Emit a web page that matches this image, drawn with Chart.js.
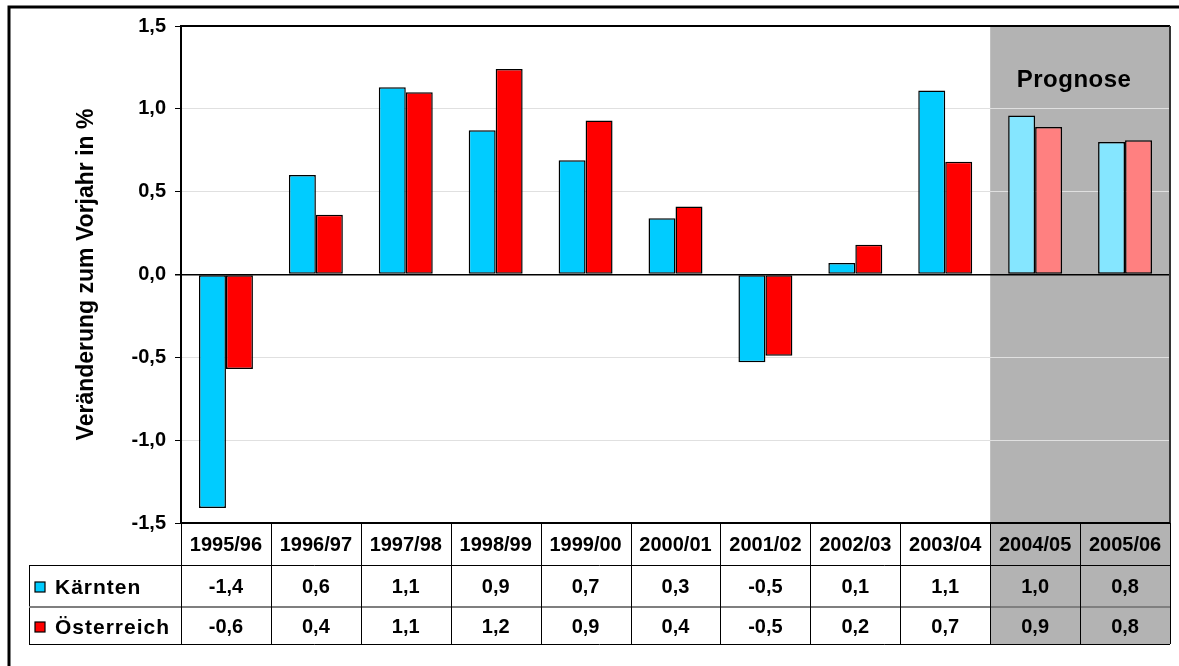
<!DOCTYPE html>
<html>
<head>
<meta charset="utf-8">
<script src="https://cdn.jsdelivr.net/npm/chart.js@4"></script>
<style>
html,body{margin:0;padding:0;background:#fff;}
#wrap{position:relative;width:1179px;height:666px;}
</style>
</head>
<body>
<div id="wrap"><canvas id="c" width="1179" height="666"></canvas></div>
<script>
const categories = ['1995/96','1996/97','1997/98','1998/99','1999/00','2000/01','2001/02','2002/03','2003/04','2004/05','2005/06'];
const kaernten   = [-1.41, 0.60, 1.13, 0.87, 0.69, 0.34, -0.53, 0.07, 1.11, 0.96, 0.80];
const oesterreich= [-0.57, 0.36, 1.10, 1.24, 0.93, 0.41, -0.49, 0.18, 0.68, 0.89, 0.81];
const seriesNames = ['Kärnten','Österreich'];
const forecastStart = 9; // index of first "Prognose" category
const forecastLabel = 'Prognose';
const yMin = -1.5, yMax = 1.5, yStep = 0.5;
const yTitle = 'Veränderung zum Vorjahr in %';

const colK = '#00ccff', colKf = '#85e6ff';
const colO = '#ff0000', colOf = '#ff8080';
const FONT = '"Liberation Sans", Arial, sans-serif';
const fmt = v => v.toFixed(1).replace('.', ',');

const TABLE_TOP = 523, ROW1 = 565, ROW2 = 607, TABLE_BOTTOM = 644, LEG_LEFT = 29;

const tablePlugin = {
  id: 'tablePlugin',
  beforeDraw(chart) {
    const ctx = chart.ctx, x = chart.scales.x, a = chart.chartArea;
    const half = (x.getPixelForValue(1) - x.getPixelForValue(0)) / 2;
    const gx0 = x.getPixelForValue(forecastStart) - half;
    ctx.save();
    ctx.fillStyle = '#b3b3b3';
    ctx.fillRect(gx0, a.top, a.right - gx0, TABLE_BOTTOM - a.top);
    ctx.restore();
  },
  afterDraw(chart) {
    const ctx = chart.ctx, x = chart.scales.x, a = chart.chartArea;
    const half = (x.getPixelForValue(1) - x.getPixelForValue(0)) / 2;
    ctx.save();
    // outer frame
    ctx.strokeStyle = '#000';
    ctx.lineWidth = 3;
    ctx.beginPath();
    ctx.moveTo(9, 700); ctx.lineTo(9, 7); ctx.lineTo(1200, 7);
    ctx.stroke();
    // plot frame top/right
    ctx.lineWidth = 2;
    ctx.beginPath();
    ctx.moveTo(a.left, a.top); ctx.lineTo(a.right, a.top);
    ctx.stroke();
    ctx.strokeStyle = '#333';
    ctx.beginPath();
    ctx.moveTo(a.right, a.top); ctx.lineTo(a.right, a.bottom);
    ctx.stroke();
    // table header top line
    ctx.strokeStyle = '#000';
    ctx.lineWidth = 2;
    ctx.beginPath();
    ctx.moveTo(a.left, TABLE_TOP); ctx.lineTo(a.right, TABLE_TOP);
    ctx.stroke();
    // horizontal lines
    ctx.lineWidth = 1;
    ctx.beginPath();
    ctx.moveTo(LEG_LEFT, ROW1 + 0.5); ctx.lineTo(a.right, ROW1 + 0.5);
    ctx.moveTo(LEG_LEFT, TABLE_BOTTOM + 0.5); ctx.lineTo(a.right, TABLE_BOTTOM + 0.5);
    ctx.moveTo(LEG_LEFT + 0.5, ROW1); ctx.lineTo(LEG_LEFT + 0.5, TABLE_BOTTOM);
    ctx.stroke();
    ctx.strokeStyle = '#7f7f7f';
    ctx.lineWidth = 2;
    ctx.beginPath();
    ctx.moveTo(LEG_LEFT, ROW2); ctx.lineTo(a.right, ROW2);
    ctx.stroke();
    // vertical lines
    ctx.strokeStyle = '#000';
    ctx.lineWidth = 1;
    ctx.beginPath();
    for (let i = 0; i <= categories.length; i++) {
      const px = Math.round(x.getPixelForValue(i) - half) + 0.5;
      ctx.moveTo(px, TABLE_TOP); ctx.lineTo(px, TABLE_BOTTOM);
    }
    ctx.stroke();
    // texts
    ctx.fillStyle = '#000';
    ctx.textAlign = 'center';
    ctx.textBaseline = 'middle';
    ctx.font = 'bold 20px ' + FONT;
    categories.forEach((c, i) => {
      const cx = x.getPixelForValue(i);
      ctx.fillText(c, cx, 545);
      ctx.fillText(fmt(kaernten[i]), cx, 587);
      ctx.fillText(fmt(oesterreich[i]), cx, 627);
    });
    // legend cells
    const rows = [[seriesNames[0], colK, 587], [seriesNames[1], colO, 627]];
    rows.forEach(([name, col, cy]) => {
      ctx.fillStyle = col;
      ctx.fillRect(35, cy - 5, 10, 10);
      ctx.strokeStyle = '#000';
      ctx.lineWidth = 1.2;
      ctx.strokeRect(35, cy - 5, 10, 10);
      ctx.fillStyle = '#000';
      ctx.textAlign = 'left';
      ctx.font = 'bold 21px ' + FONT;
      ctx.letterSpacing = '1px';
      ctx.fillText(name, 55, cy + 1);
      ctx.letterSpacing = '0px';
    });
    // Prognose label
    const px0 = x.getPixelForValue(forecastStart) - half;
    ctx.textAlign = 'center';
    ctx.font = 'bold 24px ' + FONT;
    ctx.letterSpacing = '0.5px';
    ctx.fillText(forecastLabel, (px0 + a.right) / 2 - 6, 80);
    ctx.restore();
  }
};

const bg = (base, fc) => categories.map((_, i) => i >= forecastStart ? fc : base);

new Chart(document.getElementById('c'), {
  type: 'bar',
  data: {
    labels: categories,
    datasets: [
      { label: seriesNames[0], data: kaernten, backgroundColor: bg(colK, colKf), borderColor: '#000', borderWidth: 1.5, borderSkipped: false },
      { label: seriesNames[1], data: oesterreich, backgroundColor: bg(colO, colOf), borderColor: '#000', borderWidth: 1.5, borderSkipped: false }
    ]
  },
  options: {
    responsive: false,
    animation: false,
    events: [],
    layout: { padding: { top: 26, right: 9, left: 0, bottom: 0 } },
    datasets: { bar: { barPercentage: 1.0, categoryPercentage: 0.6 } },
    plugins: { legend: { display: false }, tooltip: { enabled: false } },
    scales: {
      x: {
        ticks: { display: false },
        grid: { display: false, drawTicks: false },
        border: { display: false },
        afterFit(s) { s.height = 666 - 523; }
      },
      y: {
        min: yMin, max: yMax,
        ticks: {
          stepSize: yStep,
          color: '#000',
          font: { family: FONT, size: 20, weight: 'bold' },
          padding: 9,
          callback: v => fmt(v)
        },
        grid: {
          color: c => (c.tick && c.tick.value === 0) ? '#000' : '#e0e0e0',
          lineWidth: c => (c.tick && c.tick.value === 0) ? 1.5 : 1,
          tickColor: '#000',
          tickLength: 6
        },
        border: { display: true, color: '#000', width: 2 },
        title: {
          display: true,
          text: yTitle,
          color: '#000',
          font: { family: FONT, size: 23, weight: 'bold' },
          padding: { top: 73, bottom: 0 }
        },
        afterFit(s) { s.width = 181; }
      }
    }
  },
  plugins: [tablePlugin]
});
</script>
</body>
</html>
